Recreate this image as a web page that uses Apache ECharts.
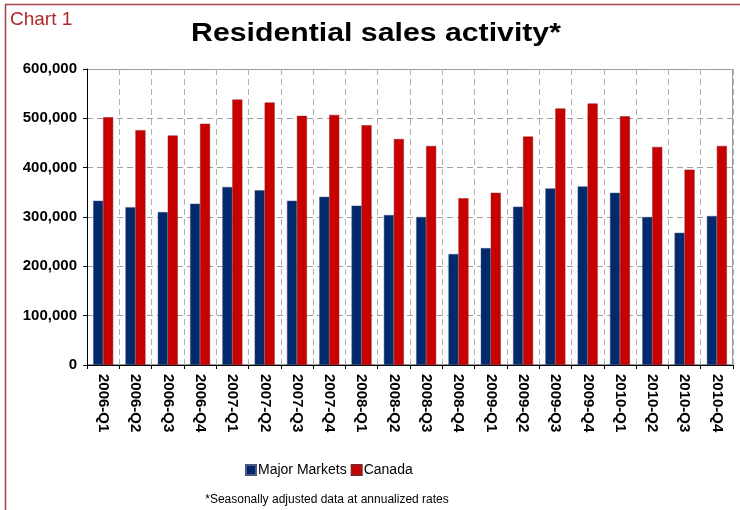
<!DOCTYPE html>
<html>
<head>
<meta charset="utf-8">
<script src="https://cdn.jsdelivr.net/npm/echarts@6/dist/echarts.min.js"></script>
<style>
html,body{margin:0;padding:0;background:#fff;}
#main{width:740px;height:510px;}
</style>
</head>
<body>
<div id="main"></div>
<script>
var quarters = ["2006-Q1","2006-Q2","2006-Q3","2006-Q4","2007-Q1","2007-Q2","2007-Q3","2007-Q4",
  "2008-Q1","2008-Q2","2008-Q3","2008-Q4","2009-Q1","2009-Q2","2009-Q3","2009-Q4",
  "2010-Q1","2010-Q2","2010-Q3","2010-Q4"];
// seasonally adjusted, annualized
var majorMarkets = [333000,320000,310000,327000,361000,354000,333000,341000,
  323000,304000,300000,225000,237000,321000,358000,362000,349000,300000,268000,302000];
var canada = [502000,476000,465000,489000,538000,532000,505000,507000,
  486000,458000,444000,338000,349000,463000,520000,530000,504000,442000,396000,444000];

var myChart = echarts.init(document.getElementById("main"));
var fnt = "Liberation Sans, Arial, sans-serif";

var option = {
  animation: false,
  graphic: [
    // frame: only top and left edges show in the picture
    {type: "rect", shape: {x: 5.5, y: 4.5, width: 760, height: 530}, silent: true,
     style: {fill: null, stroke: "#a94446", lineWidth: 1.5}},
    {type: "text", left: 10, top: 10,
     style: {text: "Chart 1", fill: "#b2282c", font: "19px " + fnt}},
    {type: "text", x: 376, y: 34, scaleX: 1.21, originX: 0, originY: 0,
     style: {text: "Residential sales activity*", fill: "#000", font: "bold 25px " + fnt,
             textAlign: "center", textVerticalAlign: "middle"}},
    {type: "text", x: 327, y: 500,
     style: {text: "*Seasonally adjusted data at annualized rates", fill: "#000",
             font: "12px " + fnt, textAlign: "center", textVerticalAlign: "middle"}},
    {type: "rect", shape: {x: 87.5, y: 69.5, width: 645, height: 295}, silent: true, z: 0,
     style: {fill: null, stroke: "#999", lineWidth: 1}}
  ],
  legend: {
    data: ["Major Markets", "Canada"],
    left: 240, top: 458,
    itemWidth: 10, itemHeight: 10, itemGap: 4,
    icon: "rect",
    textStyle: {fontFamily: fnt, fontSize: 14, color: "#000", padding: [0, 0, 0, -3]}
  },
  grid: {left: 87, right: 7, top: 69, bottom: 145},
  xAxis: {
    type: "category",
    data: quarters,
    axisLine: {lineStyle: {color: "#000", width: 1}},
    axisTick: {show: true, length: 4, lineStyle: {color: "#000"}},
    splitLine: {show: true, lineStyle: {color: "#b0b0b0", type: [6, 4]}},
    axisLabel: {rotate: -90, margin: 9, fontFamily: fnt, fontSize: 15, fontWeight: "bold", color: "#000"}
  },
  yAxis: {
    type: "value",
    min: 0, max: 600000, interval: 100000,
    axisLine: {show: true, lineStyle: {color: "#000"}},
    axisTick: {show: true, length: 4, lineStyle: {color: "#000"}},
    splitLine: {lineStyle: {color: "#a0a0a0", type: [6, 4]}},
    axisLabel: {
      margin: 10, fontFamily: fnt, fontSize: 15, fontWeight: "bold", color: "#000",
      formatter: function (v) { return v.toLocaleString("en-US"); }
    }
  },
  series: [
    {name: "Major Markets", type: "bar", data: majorMarkets, barWidth: 10, barGap: "0%",
     itemStyle: {color: "#002a6c", borderColor: "#4a5a80", borderWidth: 0.5}},
    {name: "Canada", type: "bar", data: canada, barWidth: 10,
     itemStyle: {color: "#c80000", borderColor: "#8a2020", borderWidth: 0.5}}
  ]
};
myChart.setOption(option);
</script>
</body>
</html>
